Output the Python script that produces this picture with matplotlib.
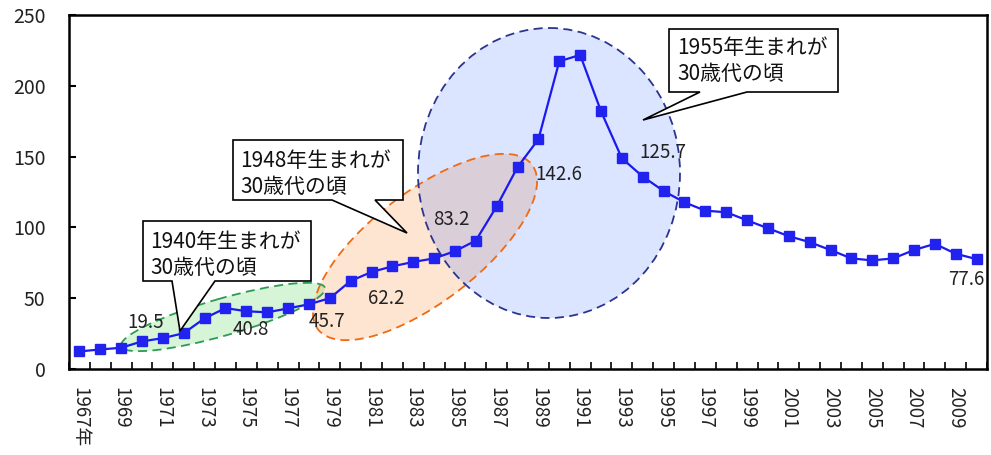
import matplotlib
matplotlib.use("Agg")
import matplotlib.pyplot as plt
from matplotlib.patches import Ellipse, PathPatch
from matplotlib.path import Path
from matplotlib.transforms import Affine2D

plt.rcParams['font.family'] = ['Noto Sans CJK JP', 'DejaVu Sans']

# ---- data -------------------------------------------------------------
years = list(range(1967, 2011))
values = [12.4, 13.8, 15.0, 19.5, 21.8, 25.3, 35.8, 43.0, 40.8, 40.0,
          42.8, 45.7, 50.0, 62.2, 68.5, 72.5, 75.6, 78.1, 83.2, 90.7,
          114.9, 142.6, 162.3, 217.3, 221.8, 182.0, 148.8, 135.9, 125.7, 117.7,
          111.8, 110.7, 105.0, 99.4, 93.8, 89.6, 84.0, 78.1, 76.7, 78.1,
          84.0, 88.4, 81.4, 77.6]
tick_labels = ['1967年'] + [str(y) for y in range(1969, 2010, 2)]
labelled_years = [1970, 1975, 1978, 1980, 1985, 1988, 1995, 2010]
label_offsets = [(4, 19), (4, -18), (18, -17), (36, -18), (-4, 32),
                 (41, -7), (-1, 39), (-10, -20)]
callout_texts = ['1940年生まれが\n30歳代の頃',
                 '1948年生まれが\n30歳代の頃',
                 '1955年生まれが\n30歳代の頃']

W, H = 991, 455
fig = plt.figure(figsize=(W / 100, H / 100), dpi=100)
ax = fig.add_axes([69 / W, (H - 369) / H, (987 - 69) / W, (369 - 15) / H])

# pixel space, origin top-left
pix = Affine2D().scale(1 / W, -1 / H).translate(0, 1) + fig.transFigure

# ---- highlighted periods (ellipses) ----------------------------------
ell_specs = [
    # centre, width, height, angle, face, edge
    ((223, 317), 212, 37, -16, ('#33cc33', 0.20), '#2e9a55'),
    ((425, 247), 270, 110, -37.6, ('#f79646', 0.24), '#f06a14'),
    ((549, 173), 262, 290, 0, ('#3366ff', 0.17), '#2b3590'),
]
for (c, w, h, ang, (fc, a), ec) in ell_specs:
    e = Ellipse(c, w, h, angle=ang, transform=pix, facecolor=fc, alpha=a,
                edgecolor='none', zorder=1)
    fig.patches.append(e)
    e2 = Ellipse(c, w, h, angle=ang, transform=pix, facecolor='none',
                 edgecolor=ec, linewidth=1.3, linestyle=(0, (5, 3)), zorder=2)
    fig.patches.append(e2)

# ---- series -----------------------------------------------------------
x = list(range(len(years)))
ax.plot(x, values, color='#1a1aee', linewidth=1.6, marker='s',
        markersize=6.5, markerfacecolor='#2222ee', markeredgecolor='#2222ee',
        zorder=5, clip_on=False)

for yr, (dx, dy) in zip(labelled_years, label_offsets):
    i = years.index(yr)
    ax.annotate(f'{values[i]:.1f}', (i, values[i]), xytext=(dx, dy),
                textcoords='offset pixels', ha='center', va='center',
                fontsize=13.5, color='#222222', zorder=6,
                annotation_clip=False)

# ---- axes -------------------------------------------------------------
ax.set_xlim(-0.5, len(years) - 0.5)
ax.set_ylim(0, 250)
ax.set_yticks(range(0, 251, 50))
ax.tick_params(axis='y', direction='in', length=5, width=1.5, pad=17,
               labelsize=14, labelcolor='#222222')
ax.set_xticks([i - 0.5 for i in range(len(years) + 1)])
ax.set_xticklabels([])
ax.tick_params(axis='x', which='major', direction='in', length=5, width=1.2)
ax.set_xticks(list(range(0, len(years), 2))[:len(tick_labels)], minor=True)
ax.set_xticklabels(tick_labels, minor=True, rotation=-90, ha='center',
                   va='top', fontsize=13.5, color='#222222')
ax.tick_params(axis='x', which='minor', length=0, pad=13)
for s in ax.spines.values():
    s.set_linewidth(1.8)
    s.set_color('black')
ax.set_facecolor('none')
ax.set_zorder(3)

# ---- callouts ---------------------------------------------------------
callouts = [
    # box x0, y0, x1, y1, wedge base left, right, tip
    ((143, 221, 311, 281), (172, 215), (180, 331), (150, 241)),
    ((233, 140, 403, 200), (332, 375), (407, 233), (240, 160)),
    ((669, 29, 838, 92), (700, 747), (643, 120), (677, 47)),
]
for (box, base, tip, tpos), txt in zip(callouts, callout_texts):
    x0, y0, x1, y1 = box
    verts = [(x0, y0), (x1, y0), (x1, y1), (base[1], y1), tip,
             (base[0], y1), (x0, y1), (x0, y0)]
    codes = [Path.MOVETO] + [Path.LINETO] * 6 + [Path.CLOSEPOLY]
    p = PathPatch(Path(verts, codes), transform=pix, facecolor='white',
                  edgecolor='black', linewidth=1.2, zorder=10)
    fig.patches.append(p)
    fig.text(tpos[0], tpos[1] - 10, txt, transform=pix, ha='left', va='top',
             fontsize=15, linespacing=1.25, color='#111111', zorder=11)

fig.savefig('out.png', dpi=100)
